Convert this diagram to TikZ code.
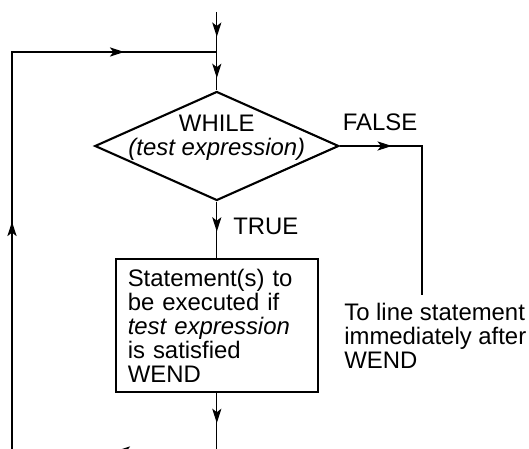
\documentclass[tikz,border=0pt]{standalone}
\usepackage{fontspec}
\setmainfont{Liberation Sans}
\usetikzlibrary{arrows.meta,decorations.markings,shapes.geometric}

\newcommand{\flowhead}{\arrow{Stealth[length=3.6mm,width=2.3mm,inset=0.9mm]}}
\tikzset{
  flow/.style={line width=0.75pt},
  midarrow/.style={postaction={decorate},decoration={markings,mark=at position #1 with {\flowhead}}},
  txt/.style={font=\fontsize{17}{17.1}\selectfont,inner sep=0pt},
}

\begin{document}
\begin{tikzpicture}
      \useasboundingbox (0,0) rectangle (13.225,11.2);
      \coordinate (start) at (5.42,10.9);
      \coordinate (join) at (5.42,9.9);
      \node[draw,diamond,line width=1.5pt,minimum width=6.1cm,minimum height=2.725cm,inner sep=0pt] (test) at (5.42,7.55) {};
      \node[txt,align=center] (whiletxt) at (5.42,7.76) {WHILE\\\textit{(test expression)}};
      \node[draw,line width=1.5pt,txt,align=left,text width=4.45cm,inner xsep=0.3cm,inner ysep=0.15cm,minimum height=3.325cm] (body) at (5.42,3.0625)
            {Statement(s) to\\be executed if\\\textit{test expression}\\is satisfied\\WEND};
      \node[txt,anchor=west] (truelbl) at (5.825,5.53) {TRUE};
      \node[txt] (falselbl) at (9.5,8.14) {FALSE};
      \node[txt,align=left,anchor=north west] (after) at (8.6,3.62) {To line statement\\immediately after\\WEND};
      \coordinate (falseend) at (10.55,3.825);
      \coordinate (loopbr) at (5.42,-0.075);
      \coordinate (loopbl) at (0.3,-0.075);
      \coordinate (looptl) at (0.3,9.9);
      \draw[flow,midarrow=0.62cm] (start) -- (join);
      \draw[flow,midarrow=0.65cm] (join) -- (test.north);
      \draw[flow,midarrow=0.75cm] (test.south) -- (body.north);
      \draw[flow,midarrow=1.3cm] (test.east) -| (falseend);
      \draw[flow,postaction={decorate},decoration={markings,
            mark=at position 0.75cm with {\flowhead},
            mark=at position 3.975cm with {\flowhead},
            mark=at position 12.3cm with {\flowhead},
            mark=at position 19.35cm with {\flowhead}}]
            (body.south) -- (loopbr) -- (loopbl) -- (looptl) -- (join);
\end{tikzpicture}
\end{document}
